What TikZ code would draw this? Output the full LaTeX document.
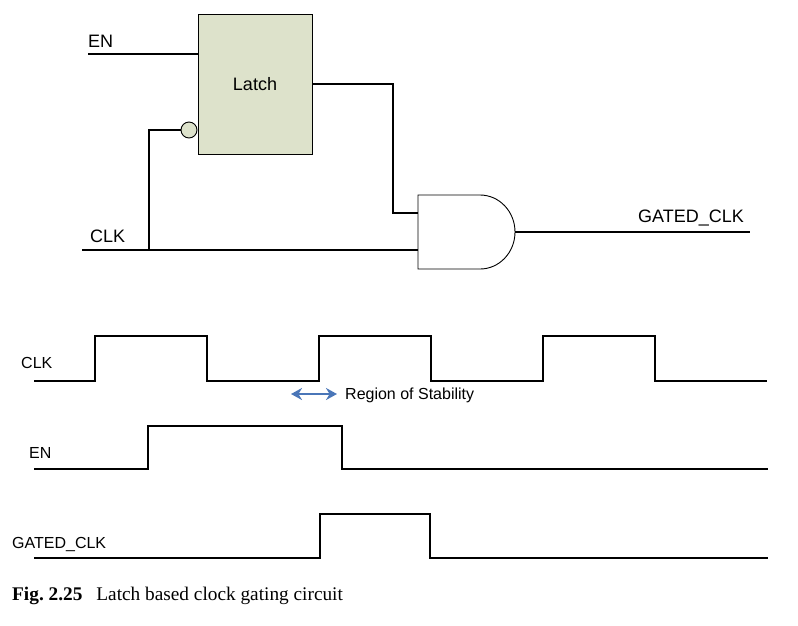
\documentclass[tikz,border=0pt]{standalone}
\usepackage{fontspec}
\setmainfont{Liberation Sans}
\newfontfamily\capfont{Liberation Serif}
\usepackage[usenames,dvipsnames]{xcolor}
\usetikzlibrary{calc}
\usetikzlibrary{arrows.meta}
\definecolor{latchfill}{RGB}{221,226,203}
\definecolor{stabblue}{RGB}{74,118,184}
\tikzset{latchbox/.style={rectangle, draw, line width=0.9pt, fill=latchfill, minimum width=114pt, minimum height=140pt, inner sep=0pt, font=\fontsize{18}{20}\selectfont}}
\tikzset{bubble/.style={circle, draw, line width=0.9pt, fill=latchfill, minimum size=16pt, inner sep=0pt}}
\tikzset{wire/.style={line width=2pt}}
\tikzset{sig/.style={inner sep=0pt, anchor=base west, font=\fontsize{18}{20}\selectfont}}
\tikzset{wlab/.style={inner sep=0pt, anchor=base west, font=\fontsize{16}{18}\selectfont}}

\begin{document}
\begin{tikzpicture}[x=1pt,y=-1pt]
  \useasboundingbox (0,0) rectangle (798,625);
  % circuit
  \node[latchbox] (latch) at (255,84) {Latch};
  \node[bubble] (nclk) at (189,130) {};
  \coordinate (en_in) at (88,54);
  \coordinate (clk_in) at (82,250);
  \coordinate (clk_tap) at (149,250);
  \coordinate (q_turn) at (393,84);
  \coordinate (and_a) at (418,213);
  \coordinate (and_b) at (418,250);
  \coordinate (and_y) at (515,232);
  \coordinate (gclk_out) at (750,232);
  \draw[line width=0.9pt] (418,195) -- (480,195)
    arc[start angle=-90, end angle=90, x radius=35, y radius=37]
    -- (418,269) -- cycle;
  \draw[wire] (en_in) -- (latch.west |- en_in);
  \draw[wire] (latch.east |- q_turn) -- (q_turn) |- (and_a);
  \draw[wire] (clk_in) -- (and_b);
  \draw[wire] (clk_tap) |- (nclk.west);
  \draw[wire] (and_y) -- (gclk_out);
  \node[sig] (en_lab) at (88,47) {EN};
  \node[sig] (clk_lab) at (90,242) {CLK};
  \node[sig] (gclk_lab) at (638,222) {GATED\_CLK};
  % waveforms
  \draw[line width=2.4pt] (34,381) -- (95,381)
    \foreach \t in {0,1,2} { -- ++(0,-45) -- ++(112,0) -- ++(0,45) -- ++(112,0) };
  \draw[line width=1.2pt] (34,469) -- (148,469) -- (148,426) -- (342,426) -- (342,469) -- (768,469);
  \draw[line width=1.2pt] (34,558) -- (320,558) -- (320,514) -- (430,514) -- (430,558) -- (768,558);
  \node[wlab] (clk_w) at (21,368) {CLK};
  \node[wlab] (en_w) at (29,458) {EN};
  \node[wlab] (gclk_w) at (12,548) {GATED\_CLK};
  \coordinate (stab_l) at (291,394);
  \coordinate (stab_r) at (337,394);
  \draw[stabblue, line width=2.4pt, {Stealth[length=11pt,width=12pt]}-{Stealth[length=11pt,width=12pt]}] (stab_l) -- (stab_r);
  \node[wlab] (stab_lab) at (345,399) {Region of Stability};
  \node[inner sep=0pt, anchor=base west, font=\capfont\fontsize{19.3}{21}\selectfont] (caption) at (12,600) {\textbf{Fig.\ 2.25}\hspace{14pt}Latch based clock gating circuit};
\end{tikzpicture}
\end{document}
